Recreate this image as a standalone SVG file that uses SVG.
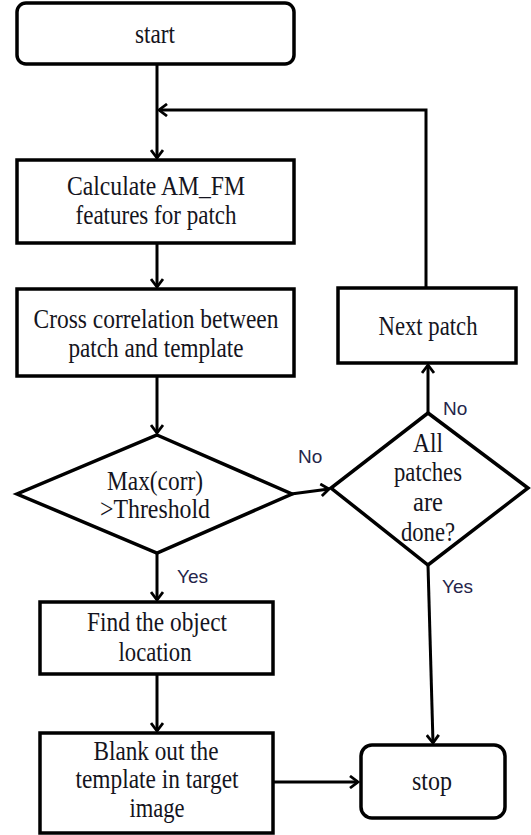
<svg xmlns="http://www.w3.org/2000/svg" width="531" height="835" viewBox="0 0 531 835">
  <defs>
    <marker id="arrow" markerWidth="14" markerHeight="14" refX="11" refY="7" orient="auto" markerUnits="userSpaceOnUse">
      <path d="M3,1 L11,7 L3,13" fill="none" stroke="#000" stroke-width="2.8"/>
    </marker>
    <style>
      .box { fill: #fff; stroke: #000; stroke-width: 3.5; }
      .conn { fill: none; stroke: #000; stroke-width: 3; }
      .t { font-family: "Liberation Serif", "Times New Roman", serif; font-size: 27px; fill: #141420; text-anchor: middle; }
      .lbl { font-family: "Liberation Sans", Arial, sans-serif; font-size: 19px; fill: #25254a; }
    </style>
  </defs>

  <!-- connectors -->
  <g id="connectors">
    <path class="conn" d="M157,64 V158" marker-end="url(#arrow)"/>
    <path class="conn" d="M426,288 V110 H159" marker-end="url(#arrow)"/>
    <path class="conn" d="M157,243 V287" marker-end="url(#arrow)"/>
    <path class="conn" d="M157,376 V433" marker-end="url(#arrow)"/>
    <path class="conn" d="M291,494 L329,489" marker-end="url(#arrow)"/>
    <path class="conn" d="M428,413 V365" marker-end="url(#arrow)"/>
    <path class="conn" d="M157,553 V600" marker-end="url(#arrow)"/>
    <path class="conn" d="M157,674 V731" marker-end="url(#arrow)"/>
    <path class="conn" d="M273,782 H358" marker-end="url(#arrow)"/>
    <path class="conn" d="M428,565 L433,743" marker-end="url(#arrow)"/>
    <text class="lbl" x="298" y="463">No</text>
    <text class="lbl" x="443" y="415">No</text>
    <text class="lbl" x="177" y="583">Yes</text>
    <text class="lbl" x="442" y="593">Yes</text>
  </g>

  <g id="start">
    <rect class="box" x="17" y="3" width="277" height="61" rx="9"/>
    <text class="t" x="155" y="43" textLength="40" lengthAdjust="spacingAndGlyphs">start</text>
  </g>

  <g id="calc">
    <rect class="box" x="17" y="160" width="277" height="83"/>
    <text class="t" x="156" y="195" textLength="178" lengthAdjust="spacingAndGlyphs">Calculate AM_FM</text>
    <text class="t" x="156" y="224" textLength="161" lengthAdjust="spacingAndGlyphs">features for patch</text>
  </g>

  <g id="xcorr">
    <rect class="box" x="17" y="289" width="277" height="87"/>
    <text class="t" x="156" y="328" textLength="245" lengthAdjust="spacingAndGlyphs">Cross correlation  between</text>
    <text class="t" x="156" y="357" textLength="175" lengthAdjust="spacingAndGlyphs">patch and  template</text>
  </g>

  <g id="threshold">
    <path class="box" d="M157,435 L292,494 L157,553 L17,494 Z"/>
    <text class="t" x="155" y="490" textLength="96" lengthAdjust="spacingAndGlyphs">Max(corr)</text>
    <text class="t" x="155" y="518" textLength="110" lengthAdjust="spacingAndGlyphs">&gt;Threshold</text>
  </g>

  <g id="next">
    <rect class="box" x="338" y="288" width="178" height="75"/>
    <text class="t" x="428" y="335" textLength="99" lengthAdjust="spacingAndGlyphs">Next patch</text>
  </g>

  <g id="done">
    <path class="box" d="M428,413 L528,488 L428,565 L331,488 Z"/>
    <text class="t" x="428" y="452" textLength="30" lengthAdjust="spacingAndGlyphs">All</text>
    <text class="t" x="428" y="481" textLength="68" lengthAdjust="spacingAndGlyphs">patches</text>
    <text class="t" x="428" y="511" textLength="30" lengthAdjust="spacingAndGlyphs">are</text>
    <text class="t" x="428" y="541" textLength="54" lengthAdjust="spacingAndGlyphs">done?</text>
  </g>

  <g id="find">
    <rect class="box" x="40" y="602" width="233" height="72"/>
    <text class="t" x="157" y="631" textLength="140" lengthAdjust="spacingAndGlyphs">Find the  object</text>
    <text class="t" x="155" y="661" textLength="73" lengthAdjust="spacingAndGlyphs">location</text>
  </g>

  <g id="blank">
    <rect class="box" x="40" y="733" width="233" height="100"/>
    <text class="t" x="156" y="760" textLength="125" lengthAdjust="spacingAndGlyphs">Blank out the</text>
    <text class="t" x="157" y="788" textLength="163" lengthAdjust="spacingAndGlyphs">template  in target</text>
    <text class="t" x="157" y="817" textLength="55" lengthAdjust="spacingAndGlyphs">image</text>
  </g>

  <g id="stop">
    <rect class="box" x="361" y="745" width="144" height="73" rx="11"/>
    <text class="t" x="432" y="790" textLength="40" lengthAdjust="spacingAndGlyphs">stop</text>
  </g>
</svg>
